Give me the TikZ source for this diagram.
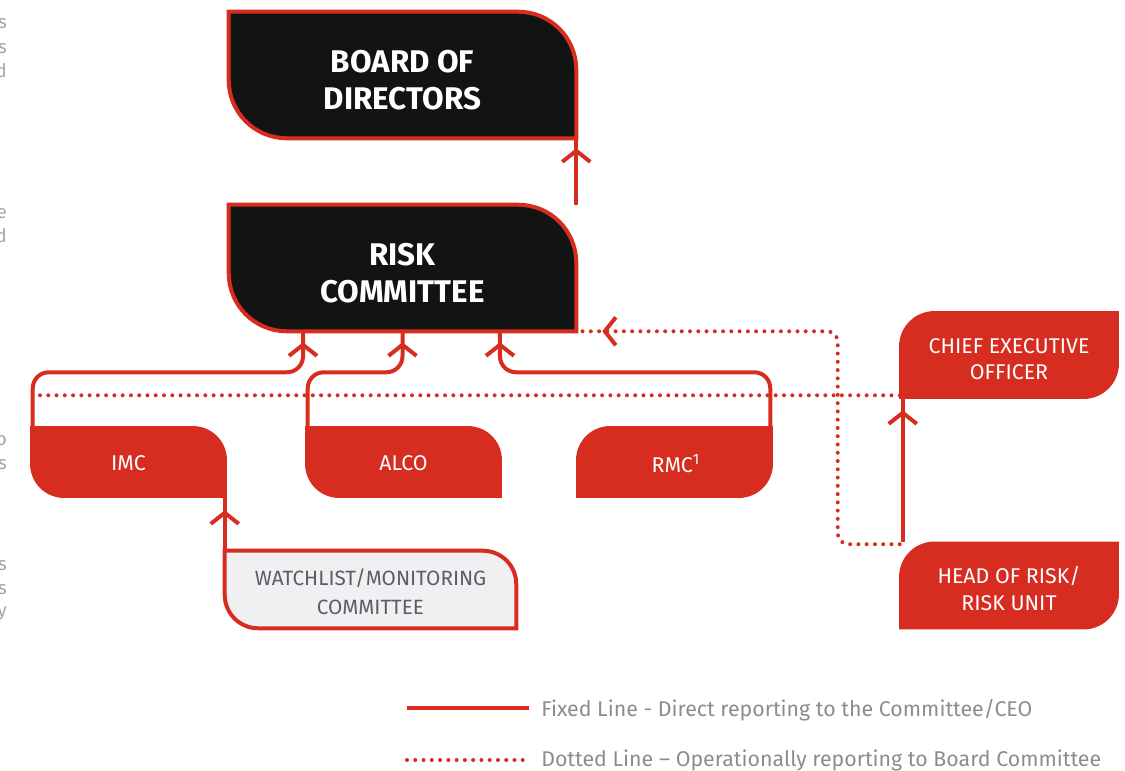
\documentclass[tikz,border=0pt]{standalone}
\usepackage{fontspec}
\setmainfont{Fira Sans}
\usetikzlibrary{arrows.meta,calc,positioning,decorations.markings}
\definecolor{riskred}{RGB}{214,45,32}
\definecolor{nightblack}{RGB}{18,20,19}
\definecolor{keygrey}{RGB}{140,140,140}
\definecolor{mistgrey}{RGB}{240,240,243}
\definecolor{slategrey}{RGB}{90,94,98}
\definecolor{edgegrey}{RGB}{165,165,165}
\tikzset{
    chev/.tip={Straight Barb[length=8.25pt,width=21pt]},
    topbox/.style={minimum width=260.25pt, minimum height=94.5pt, inner sep=0pt},
    unitbox/.style={minimum width=146.25pt, minimum height=52.5pt, inner sep=0pt},
    watchbox/.style={minimum width=218.25pt, minimum height=57.75pt, inner sep=0pt},
    execbox/.style={minimum width=163.5pt, minimum height=64.5pt, inner sep=0pt},
    toptext/.style={inner sep=0pt, align=center, text=white,
           font=\bfseries\fontsize{23.5}{27.5}\selectfont},
    unittext/.style={inner sep=0pt, align=center, text=white,
           font=\fontsize{16}{20}\selectfont},
    watchtext/.style={inner sep=0pt, align=center, text=slategrey,
           font=\fontsize{15.5}{21.75}\selectfont},
    topshape/.style={fill=nightblack, draw=riskred, line width=3pt},
    unitshape/.style={fill=riskred, draw=riskred, line width=1pt},
    watchshape/.style={fill=mistgrey, draw=riskred, line width=3pt},
    fixed/.style={riskred, line width=3pt},
    dotline/.style={riskred, line width=3pt, line cap=round, dash pattern=on 0pt off 6.2pt},
    tipat/.style={postaction={decorate,
           decoration={markings, mark=at position #1 with {\arrow{chev}}}}},
    keytext/.style={anchor=base west, inner sep=0pt, text=keygrey,
           font=\fontsize{16}{19}\selectfont},
    edgeletter/.style={anchor=base east, inner sep=0pt, text=edgegrey,
           font=\fontsize{14}{16}\selectfont}
}
% box outlines: rounded top right and bottom left
\newcommand{\leafne}[3]{%
  \draw[#1] (#2.north west) -- ([xshift=-#3]#2.north east)
     arc[start angle=90, end angle=0, radius=#3] -- (#2.south east)
     -- ([xshift=#3]#2.south west) arc[start angle=270, end angle=180, radius=#3] -- cycle;}
% box outlines: rounded top left and bottom right
\newcommand{\leafnw}[3]{%
  \draw[#1] ([xshift=#3]#2.north west) -- (#2.north east)
     -- ([yshift=#3]#2.south east) arc[start angle=0, end angle=-90, radius=#3]
     -- (#2.south west) -- ([yshift=-#3]#2.north west)
     arc[start angle=180, end angle=90, radius=#3] -- cycle;}

\begin{document}
\begin{tikzpicture}[x=0.75pt,y=-0.75pt]
          \useasboundingbox (0,0) rectangle (1125,771);
          \node[topbox](board) at (402.5,75) {};
          \node[topbox](risk) at (402.5,268) {};
          \node[unitbox](imc) at (128.5,462) {};
          \node[unitbox](alco) at (403.5,462) {};
          \node[unitbox](rmc) at (674.5,462) {};
          \node[watchbox](watch) at (370.5,589.5) {};
          \node[execbox](ceo) at (1009,355) {};
          \node[execbox](head) at (1009,585.5) {};
          \leafne{topshape}{board}{43.5pt}
          \leafne{topshape}{risk}{43.5pt}
          \leafne{unitshape}{imc}{25pt}
          \leafne{unitshape}{alco}{25pt}
          \leafnw{unitshape}{rmc}{25pt}
          \leafne{watchshape}{watch}{25pt}
          \leafnw{unitshape}{ceo}{26pt}
          \leafnw{unitshape}{head}{26pt}
          \node[toptext](boardtext) at ([yshift=-3.75pt]board) {BOARD OF\\DIRECTORS};
          \node[toptext](risktext) at ([yshift=-3.75pt]risk) {RISK\\COMMITTEE};
          \node[unittext](imctext) at ([yshift=-1pt]imc) {IMC};
          \node[unittext](alcotext) at ([yshift=-1pt]alco) {ALCO};
          \node[unittext](rmctext) at ([xshift=1pt,yshift=-1pt]rmc) {RMC\textsuperscript{1}};
          \node[watchtext](watchtext) at ([yshift=-2pt]watch) {WATCHLIST/MONITORING\\COMMITTEE};
          \node[unittext](ceotext) at ([yshift=-3pt]ceo) {CHIEF EXECUTIVE\\OFFICER};
          \node[unittext](headtext) at ([yshift=-2.5pt]head) {HEAD OF RISK/\\RISK UNIT};
          \coordinate (riskin1) at ([xshift=-74.6pt]risk.south);
          \coordinate (riskin2) at (risk.south);
          \coordinate (riskin3) at ([xshift=73.1pt]risk.south);
          \coordinate (dotrow) at ([yshift=2.25pt]ceo.south west);
          \draw[fixed, tipat=-7.5pt] (risk.north east) -- (board.south east);
          \draw[fixed, rounded corners=12pt, tipat=-8.25pt] ([xshift=1.5pt]imc.north west) |- ([yshift=-30.75pt]riskin1) -- (riskin1);
          \draw[fixed, rounded corners=12pt, tipat=-8.25pt] ([xshift=1.5pt]alco.north west) |- ([yshift=-30.75pt]riskin2) -- (riskin2);
          \draw[fixed, rounded corners=12pt, tipat=-8.25pt] ([xshift=-1.5pt]rmc.north east) |- ([yshift=-30.75pt]riskin3) -- (riskin3);
          \draw[fixed, tipat=-9.75pt] (watch.north west) -- (watch.north west |- imc.south);
          \draw[fixed, tipat=-9pt] ([xshift=2.25pt]head.north west) -- ([xshift=2.25pt]ceo.south west);
          \draw[dotline, rounded corners=8pt, tipat=-19.5pt] ([yshift=-1.5pt]head.north west) -- ++(-46.5pt,0) |- (risk.south east);
          \draw[dotline] (dotrow) -- ([xshift=1.5pt]dotrow -| imc.west);
          \coordinate (keyfixedline) at (407,708);
          \coordinate (keydottedline) at (407,760);
          \draw[fixed] (keyfixedline) -- ++(91.5pt,0);
          \draw[dotline] (keydottedline) -- ++(91.5pt,0);
          \node[keytext](keyfixed) at (541,716) {Fixed Line - Direct reporting to the Committee/CEO};
          \node[keytext](keydotted) at (541,766) {Dotted Line – Operationally reporting to Board Committee};
          \node[edgeletter](e1) at (7,28) {s};
          \node[edgeletter](e2) at (7,53) {s};
          \node[edgeletter](e3) at (7,77) {d};
          \node[edgeletter](e4) at (7,218) {e};
          \node[edgeletter](e5) at (7,242) {d};
          \node[edgeletter](e6) at (7,445) {o};
          \node[edgeletter](e7) at (7,469) {s};
          \node[edgeletter](e8) at (7,570) {s};
          \node[edgeletter](e9) at (7,594) {s};
          \node[edgeletter](e10) at (7,616) {y};
         \end{tikzpicture}
\end{document}
